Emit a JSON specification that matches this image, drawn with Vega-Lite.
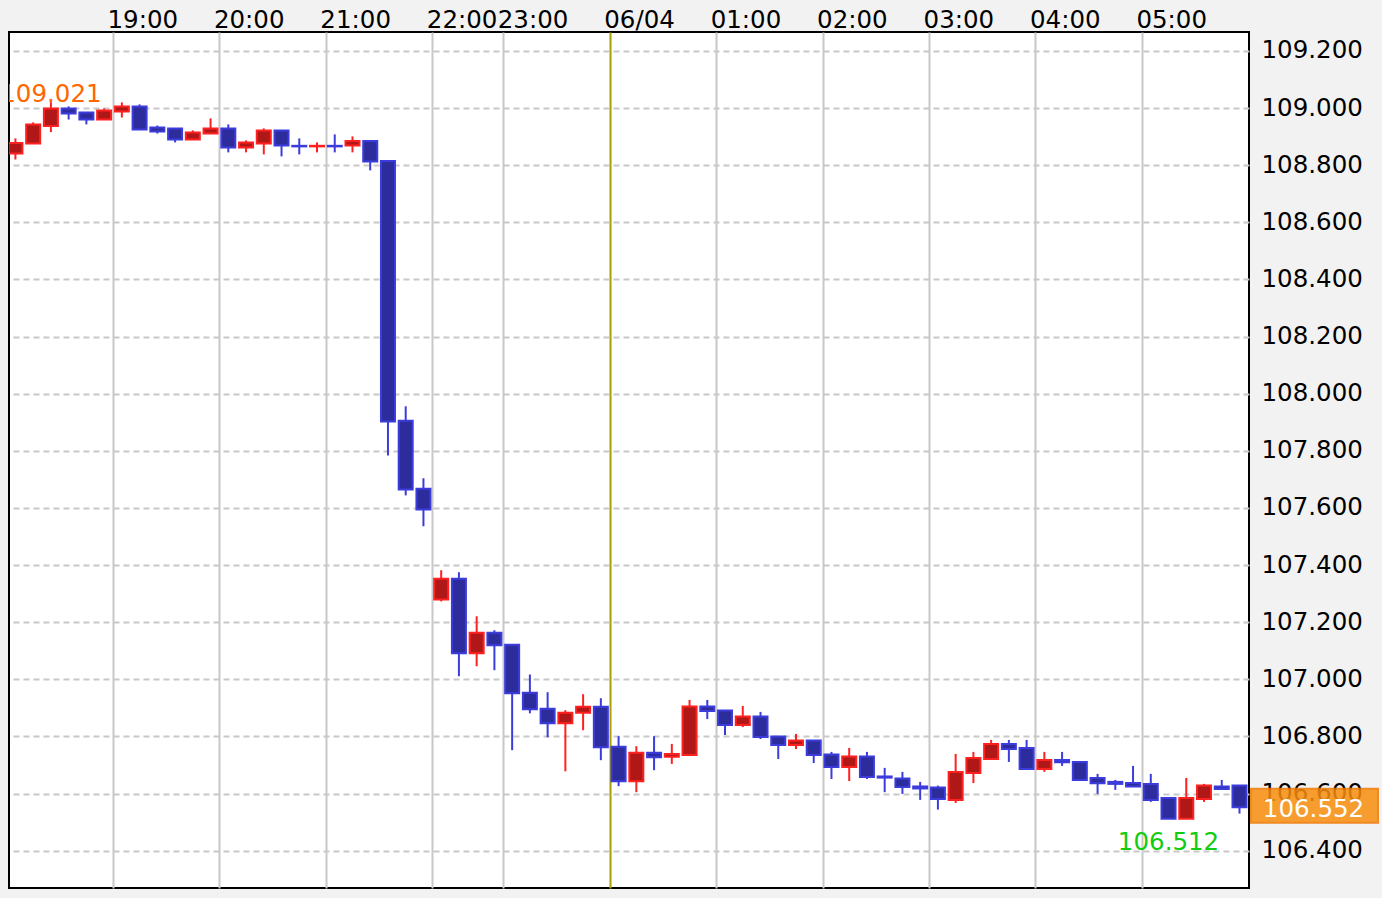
{
  "$schema": "https://vega.github.io/schema/vega-lite/v6.json",
  "width": 1240,
  "height": 856,
  "autosize": {"type": "none"},
  "padding": {"left": 9, "top": 32, "right": 133, "bottom": 10},
  "background": "#f2f2f2",
  "config": {
    "font": "DejaVu Sans",
    "view": {"fill": "white", "stroke": "#000000", "strokeWidth": 2}
  },
  "datasets": {
    "candles": [
      {"i": 0, "t": "18:00", "o": 108.841, "h": 108.894, "l": 108.820, "c": 108.878},
      {"i": 1, "t": "18:10", "o": 108.876, "h": 108.950, "l": 108.876, "c": 108.943},
      {"i": 2, "t": "18:20", "o": 108.937, "h": 109.021, "l": 108.916, "c": 108.999},
      {"i": 3, "t": "18:30", "o": 108.999, "h": 109.006, "l": 108.960, "c": 108.981},
      {"i": 4, "t": "18:40", "o": 108.985, "h": 108.985, "l": 108.943, "c": 108.960},
      {"i": 5, "t": "18:50", "o": 108.960, "h": 108.999, "l": 108.960, "c": 108.992},
      {"i": 6, "t": "19:00", "o": 108.988, "h": 109.020, "l": 108.967, "c": 109.006},
      {"i": 7, "t": "19:10", "o": 109.006, "h": 109.013, "l": 108.925, "c": 108.925},
      {"i": 8, "t": "19:20", "o": 108.932, "h": 108.939, "l": 108.911, "c": 108.918},
      {"i": 9, "t": "19:30", "o": 108.929, "h": 108.929, "l": 108.880, "c": 108.890},
      {"i": 10, "t": "19:40", "o": 108.890, "h": 108.922, "l": 108.890, "c": 108.915},
      {"i": 11, "t": "19:50", "o": 108.911, "h": 108.964, "l": 108.911, "c": 108.929},
      {"i": 12, "t": "20:00", "o": 108.929, "h": 108.943, "l": 108.845, "c": 108.862},
      {"i": 13, "t": "20:10", "o": 108.862, "h": 108.887, "l": 108.845, "c": 108.880},
      {"i": 14, "t": "20:20", "o": 108.876, "h": 108.929, "l": 108.838, "c": 108.922},
      {"i": 15, "t": "20:30", "o": 108.922, "h": 108.922, "l": 108.831, "c": 108.869},
      {"i": 16, "t": "20:40", "o": 108.868, "h": 108.894, "l": 108.838, "c": 108.866},
      {"i": 17, "t": "20:50", "o": 108.866, "h": 108.880, "l": 108.845, "c": 108.868},
      {"i": 18, "t": "21:00", "o": 108.868, "h": 108.908, "l": 108.845, "c": 108.866},
      {"i": 19, "t": "21:10", "o": 108.869, "h": 108.901, "l": 108.845, "c": 108.885},
      {"i": 20, "t": "21:20", "o": 108.885, "h": 108.885, "l": 108.782, "c": 108.813},
      {"i": 21, "t": "21:30", "o": 108.815, "h": 108.815, "l": 107.784, "c": 107.903},
      {"i": 22, "t": "21:40", "o": 107.905, "h": 107.956, "l": 107.644, "c": 107.665},
      {"i": 23, "t": "21:50", "o": 107.667, "h": 107.704, "l": 107.536, "c": 107.595},
      {"i": 24, "t": "22:00", "o": 107.280, "h": 107.382, "l": 107.273, "c": 107.352},
      {"i": 25, "t": "22:10", "o": 107.352, "h": 107.375, "l": 107.011, "c": 107.091},
      {"i": 26, "t": "22:20", "o": 107.091, "h": 107.221, "l": 107.046, "c": 107.163},
      {"i": 27, "t": "22:30", "o": 107.163, "h": 107.172, "l": 107.032, "c": 107.119},
      {"i": 28, "t": "23:00", "o": 107.121, "h": 107.121, "l": 106.752, "c": 106.951},
      {"i": 29, "t": "23:10", "o": 106.953, "h": 107.017, "l": 106.881, "c": 106.895},
      {"i": 30, "t": "23:20", "o": 106.897, "h": 106.955, "l": 106.797, "c": 106.846},
      {"i": 31, "t": "23:30", "o": 106.846, "h": 106.892, "l": 106.678, "c": 106.883},
      {"i": 32, "t": "23:40", "o": 106.883, "h": 106.948, "l": 106.822, "c": 106.904},
      {"i": 33, "t": "23:50", "o": 106.904, "h": 106.934, "l": 106.717, "c": 106.762},
      {"i": 34, "t": "00:00", "o": 106.764, "h": 106.801, "l": 106.626, "c": 106.643},
      {"i": 35, "t": "00:10", "o": 106.643, "h": 106.766, "l": 106.605, "c": 106.743},
      {"i": 36, "t": "00:20", "o": 106.743, "h": 106.801, "l": 106.682, "c": 106.727},
      {"i": 37, "t": "00:30", "o": 106.729, "h": 106.774, "l": 106.704, "c": 106.739},
      {"i": 38, "t": "00:40", "o": 106.735, "h": 106.928, "l": 106.735, "c": 106.905},
      {"i": 39, "t": "00:50", "o": 106.905, "h": 106.928, "l": 106.861, "c": 106.889},
      {"i": 40, "t": "01:00", "o": 106.891, "h": 106.891, "l": 106.805, "c": 106.840},
      {"i": 41, "t": "01:10", "o": 106.840, "h": 106.907, "l": 106.833, "c": 106.870},
      {"i": 42, "t": "01:20", "o": 106.870, "h": 106.886, "l": 106.791, "c": 106.798},
      {"i": 43, "t": "01:30", "o": 106.800, "h": 106.800, "l": 106.721, "c": 106.770},
      {"i": 44, "t": "01:40", "o": 106.770, "h": 106.809, "l": 106.756, "c": 106.786},
      {"i": 45, "t": "01:50", "o": 106.786, "h": 106.786, "l": 106.707, "c": 106.735},
      {"i": 46, "t": "02:00", "o": 106.737, "h": 106.746, "l": 106.651, "c": 106.693},
      {"i": 47, "t": "02:10", "o": 106.693, "h": 106.760, "l": 106.644, "c": 106.730},
      {"i": 48, "t": "02:20", "o": 106.730, "h": 106.746, "l": 106.651, "c": 106.658},
      {"i": 49, "t": "02:30", "o": 106.660, "h": 106.690, "l": 106.605, "c": 106.656},
      {"i": 50, "t": "02:40", "o": 106.653, "h": 106.676, "l": 106.599, "c": 106.623},
      {"i": 51, "t": "02:50", "o": 106.625, "h": 106.641, "l": 106.578, "c": 106.618},
      {"i": 52, "t": "03:00", "o": 106.621, "h": 106.628, "l": 106.544, "c": 106.581},
      {"i": 53, "t": "03:10", "o": 106.578, "h": 106.739, "l": 106.567, "c": 106.676},
      {"i": 54, "t": "03:20", "o": 106.672, "h": 106.746, "l": 106.637, "c": 106.725},
      {"i": 55, "t": "03:30", "o": 106.721, "h": 106.788, "l": 106.721, "c": 106.774},
      {"i": 56, "t": "03:40", "o": 106.774, "h": 106.788, "l": 106.711, "c": 106.756},
      {"i": 57, "t": "03:50", "o": 106.760, "h": 106.788, "l": 106.686, "c": 106.686},
      {"i": 58, "t": "04:00", "o": 106.686, "h": 106.746, "l": 106.676, "c": 106.718},
      {"i": 59, "t": "04:10", "o": 106.718, "h": 106.746, "l": 106.697, "c": 106.710},
      {"i": 60, "t": "04:20", "o": 106.711, "h": 106.711, "l": 106.648, "c": 106.648},
      {"i": 61, "t": "04:30", "o": 106.655, "h": 106.669, "l": 106.599, "c": 106.636},
      {"i": 62, "t": "04:40", "o": 106.641, "h": 106.648, "l": 106.613, "c": 106.634},
      {"i": 63, "t": "04:50", "o": 106.637, "h": 106.697, "l": 106.625, "c": 106.625},
      {"i": 64, "t": "05:00", "o": 106.634, "h": 106.669, "l": 106.571, "c": 106.578},
      {"i": 65, "t": "05:10", "o": 106.585, "h": 106.585, "l": 106.512, "c": 106.512},
      {"i": 66, "t": "05:20", "o": 106.512, "h": 106.655, "l": 106.512, "c": 106.585},
      {"i": 67, "t": "05:30", "o": 106.581, "h": 106.634, "l": 106.571, "c": 106.628},
      {"i": 68, "t": "05:40", "o": 106.625, "h": 106.648, "l": 106.616, "c": 106.616},
      {"i": 69, "t": "05:50", "o": 106.628, "h": 106.628, "l": 106.530, "c": 106.552}
    ]
  },
  "encoding": {
    "x": {
      "field": "i",
      "type": "quantitative",
      "scale": {"domain": [-0.362, 69.536], "nice": false, "zero": false, "padding": 0},
      "axis": {
        "orient": "top",
        "title": null,
        "values": [5.5, 11.5, 17.5, 23.5, 27.5, 33.5, 39.5, 45.5, 51.5, 57.5, 63.5],
        "labelExpr": "['19:00','20:00','21:00','22:00','23:00','06/04','01:00','02:00','03:00','04:00','05:00'][indexof([5.5,11.5,17.5,23.5,27.5,33.5,39.5,45.5,51.5,57.5,63.5], datum.value)]",
        "domain": false,
        "ticks": false,
        "tickSize": 0,
        "labelPadding": 0,
        "labelFontSize": 24.5,
        "labelColor": "#000000",
        "labelAlign": "left",
        "labelOffset": -6,
        "labelOverlap": false,
        "labelBound": false,
        "labelFlush": false,
        "grid": true,
        "gridWidth": 2,
        "gridOpacity": 1,
        "gridColor": {"condition": {"test": "datum.value == 33.5", "value": "#a8a000"}, "value": "#c8c8c8"}
      }
    }
  },
  "layer": [
    {
      "data": {"name": "candles"},
      "mark": {"type": "rule", "strokeWidth": 2, "clip": true},
      "encoding": {
        "y": {
          "field": "l",
          "type": "quantitative",
          "scale": {"domain": [106.2695, 109.2665], "nice": false, "zero": false, "padding": 0},
          "axis": {
            "orient": "right",
            "title": null,
            "values": [106.4, 106.6, 106.8, 107.0, 107.2, 107.4, 107.6, 107.8, 108.0, 108.2, 108.4, 108.6, 108.8, 109.0, 109.2],
            "format": ".3f",
            "domain": false,
            "ticks": false,
            "tickSize": 0,
            "labelPadding": 12,
            "labelFontSize": 24.5,
            "labelColor": "#000000",
            "labelAlign": "left",
            "grid": true,
            "gridDash": [6, 4],
            "gridColor": "#c8c8c8",
            "gridWidth": 2,
            "gridOpacity": 1
          }
        },
        "y2": {"field": "h"},
        "stroke": {"condition": {"test": "datum.c > datum.o", "value": "#ff2020"}, "value": "#3c3cdc"}
      }
    },
    {
      "data": {"name": "candles"},
      "mark": {"type": "bar", "size": 14, "strokeWidth": 2, "clip": true},
      "encoding": {
        "y": {"field": "o", "type": "quantitative"},
        "y2": {"field": "c"},
        "fill": {"condition": {"test": "datum.c > datum.o", "value": "#b01818"}, "value": "#2c2c9c"},
        "stroke": {"condition": {"test": "datum.c > datum.o", "value": "#ff2020"}, "value": "#3c3cdc"}
      }
    },
    {
      "data": {"values": [{"i": 2, "v": 109.021, "s": "109.021"}]},
      "mark": {"type": "text", "fontSize": 24.5, "color": "#ff6600", "align": "center", "baseline": "alphabetic", "clip": true},
      "encoding": {
        "y": {"field": "v", "type": "quantitative"},
        "text": {"field": "s"}
      }
    },
    {
      "data": {"values": [{"i": 65, "v": 106.512, "s": "106.512"}]},
      "mark": {"type": "text", "fontSize": 24.5, "color": "#11cc11", "align": "center", "baseline": "alphabetic", "dy": 31},
      "encoding": {
        "y": {"field": "v", "type": "quantitative"},
        "text": {"field": "s"}
      }
    },
    {
      "data": {"values": [{"i": 69, "c": 106.552, "s": "106.552"}]},
      "mark": {"type": "rect", "fill": "#f88e0d", "opacity": 0.85, "stroke": "#f07800", "strokeWidth": 2, "xOffset": 11.5, "x2Offset": 138.5, "yOffset": -18.5, "y2Offset": 15.5, "clip": false},
      "encoding": {
        "x2": {"field": "i"},
        "y": {"field": "c", "type": "quantitative"},
        "y2": {"field": "c"}
      }
    },
    {
      "data": {"values": [{"i": 69, "c": 106.552, "s": "106.552"}]},
      "mark": {"type": "text", "fontSize": 24.5, "color": "#ffffff", "align": "center", "baseline": "middle", "dx": 74, "dy": 2.5, "clip": false},
      "encoding": {
        "y": {"field": "c", "type": "quantitative"},
        "text": {"field": "s"}
      }
    }
  ]
}
